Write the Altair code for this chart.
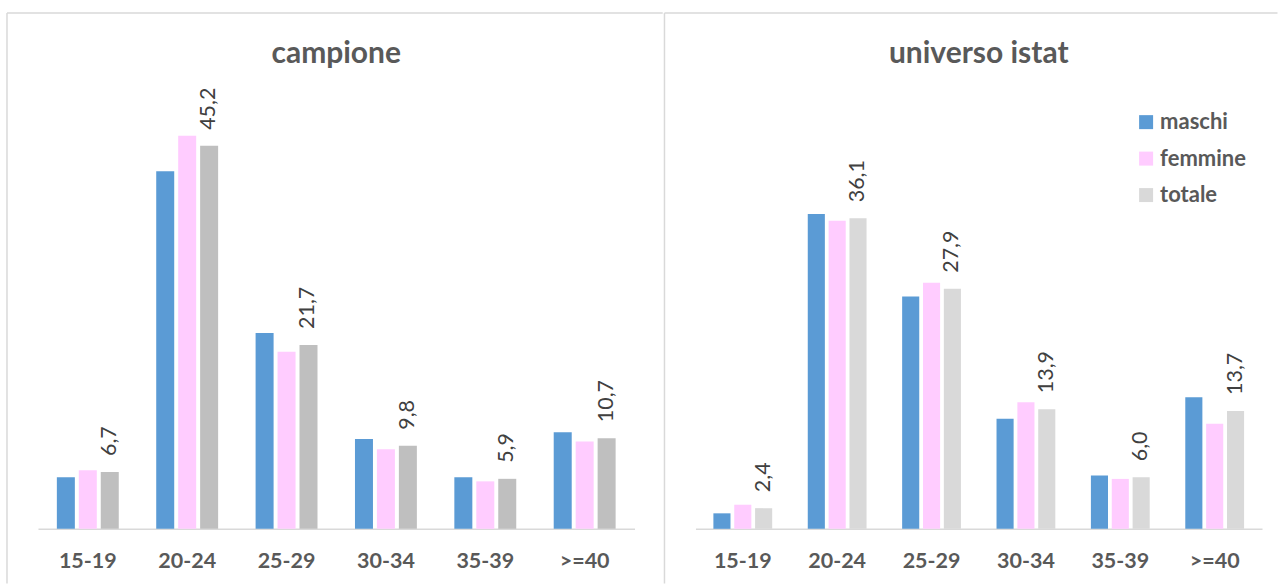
import altair as alt
import pandas as pd

ages = ["15-19", "20-24", "25-29", "30-34", "35-39", ">=40"]
series = ["maschi", "femmine", "totale"]

camp_maschi = [6.1, 42.2, 23.1, 10.6, 6.1, 11.4]
camp_femmine = [6.9, 46.4, 20.9, 9.4, 5.6, 10.3]
camp_totale = [6.7, 45.2, 21.7, 9.8, 5.9, 10.7]

ist_maschi = [1.8, 36.6, 27.0, 12.8, 6.2, 15.3]
ist_femmine = [2.8, 35.8, 28.6, 14.7, 5.8, 12.2]
ist_totale = [2.4, 36.1, 27.9, 13.9, 6.0, 13.7]

FONT = "Lato"
GRID = "#D9D9D9"
TEXT = "#595959"


def table(m, f, t):
    rows = []
    for s, vals in zip(series, [m, f, t]):
        for a, v in zip(ages, vals):
            rows.append({"eta": a, "serie": s, "valore": v,
                         "etichetta": f"{v:.1f}".replace(".", ",")})
    return pd.DataFrame(rows)


def panel(title, m, f, t, totale_color, ymax, width, legend, top_end):
    df = table(m, f, t)
    base = alt.Chart(df)
    x = alt.X("eta:N", sort=ages,
              scale=alt.Scale(paddingInner=0.377, paddingOuter=0.19),
              axis=alt.Axis(title=None, labelAngle=0, ticks=False, tickSize=0,
                            domainColor=GRID, domainWidth=1.5,
                            labelFont=FONT, labelFontSize=21.5, labelFontWeight="bold",
                            labelColor=TEXT, labelPadding=22))
    xo = alt.XOffset("serie:N", sort=series,
                     scale=alt.Scale(domain=series, paddingInner=0.18, paddingOuter=0))
    y = alt.Y("valore:Q", scale=alt.Scale(domain=[0, ymax], nice=False, zero=True), axis=None)
    color = alt.Color("serie:N",
                      scale=alt.Scale(domain=series, range=["#5B9BD5", "#FFCCFF", totale_color]),
                      legend=legend)
    bars = base.mark_bar().encode(x=x, xOffset=xo, y=y, color=color)
    labels = base.transform_filter(alt.datum.serie == "totale").mark_text(
        angle=270, align="left", baseline="middle", dx=16,
        font=FONT, fontSize=21.5, color="#404040"
    ).encode(x=x, xOffset=xo, y=y, text="etichetta:N")

    one = alt.Chart(pd.DataFrame({"k": [0]}))
    left_edge = one.mark_rule(color=GRID, strokeWidth=1.5).encode(
        x=alt.value(-31), y=alt.value(-92.3), y2=alt.value(478.7))
    top_edge = one.mark_rule(color=GRID, strokeWidth=1.5).encode(
        x=alt.value(-31), x2=alt.value(top_end), y=alt.value(-92.3))

    return alt.layer(left_edge, top_edge, bars, labels).properties(
        width=width, height=424,
        title=alt.Title(title, font=FONT, fontSize=30, fontWeight="bold", color=TEXT,
                        frame="group", anchor="middle", offset=-81, baseline="alphabetic"))


leg = alt.Legend(title=None, orient="none", legendX=440, legendY=6,
                 symbolType="square", symbolSize=196, symbolStrokeWidth=0,
                 labelFont=FONT, labelFontSize=22, labelFontWeight="bold",
                 labelColor=TEXT, labelOffset=3, rowPadding=14.5, padding=0)

left = panel("campione", camp_maschi, camp_femmine, camp_totale, "#BFBFBF",
             50.0, 597, None, 625.25)
right = panel("universo istat", ist_maschi, ist_femmine, ist_totale, "#D9D9D9",
              49.25, 567, leg, 582.5)

chart = alt.hconcat(left, right, spacing=0).resolve_scale(
    color="independent", y="independent", x="independent", xOffset="independent"
).properties(
    padding={"left": 6, "top": 11, "right": 0, "bottom": 0},
    background="white"
).configure_view(stroke="transparent", strokeWidth=0)

chart.save("out.html", embed_options={"renderer": "svg", "actions": False})
